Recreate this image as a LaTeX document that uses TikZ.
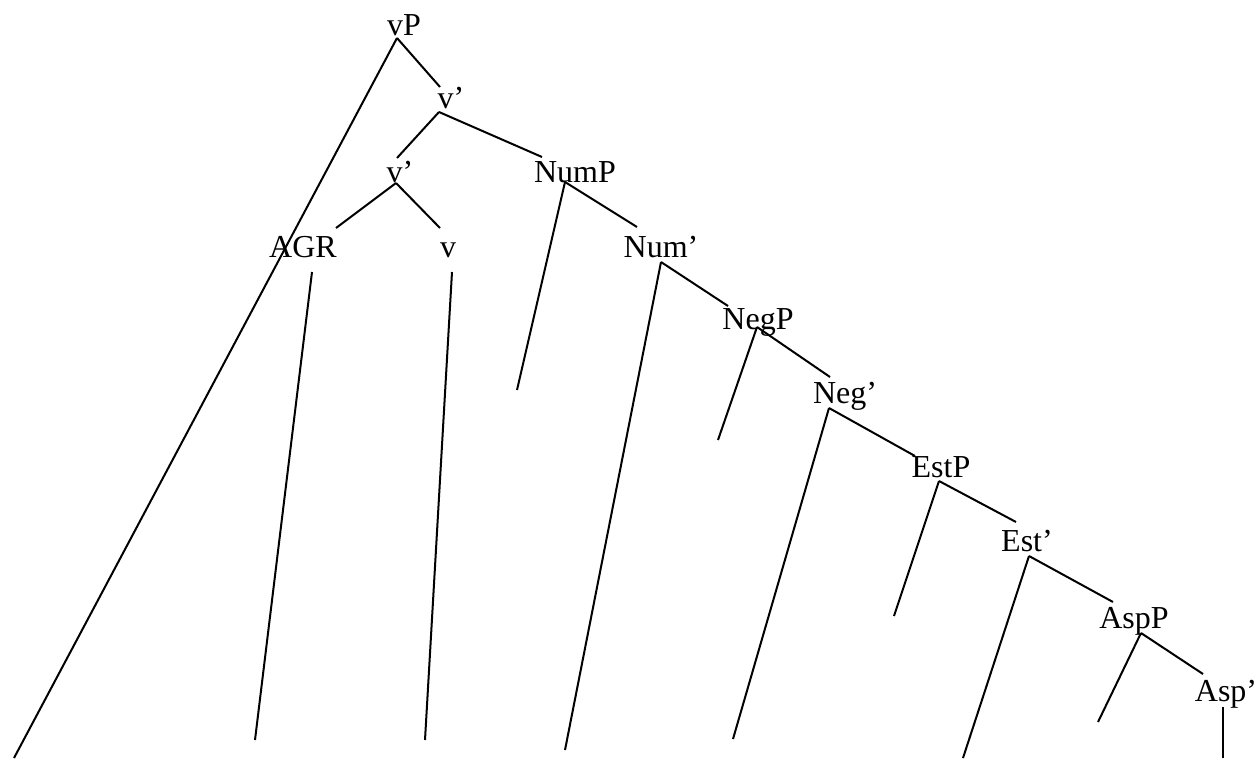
\documentclass[tikz,border=0pt]{standalone}
\usepackage{fontspec}
\setmainfont{Liberation Serif}

\begin{document}
\begin{tikzpicture}[x=1pt,y=-1pt,line width=2pt,every node/.style={font=\fontsize{32}{38}\selectfont},lab/.style={inner sep=0pt,anchor=base}]
\useasboundingbox (0,0) rectangle (1258,758);
\node[lab] (vP) at (404,35) {vP};
\node[lab] (vbar) at (451,108) {v’};
\node[lab] (vbarlow) at (400,182) {v’};
\node[lab] (NumP) at (575,182) {NumP};
\node[lab] (AGR) at (303,257) {AGR};
\node[lab] (v) at (448,257) {v};
\node[lab] (Numbar) at (661,257) {Num’};
\node[lab] (NegP) at (758,329) {NegP};
\node[lab] (Negbar) at (845,403) {Neg’};
\node[lab] (EstP) at (941,477) {EstP};
\node[lab] (Estbar) at (1027,551) {Est’};
\node[lab] (AspP) at (1134,628) {AspP};
\node[lab] (Aspbar) at (1226,701) {Asp’};
\coordinate (vP-b) at (397,38);    \coordinate (vP-l) at (14,758);
\coordinate (vbar-t) at (440,87);  \coordinate (vbar-b) at (439,112);
\coordinate (vbarlow-t) at (397,158); \coordinate (vbarlow-b) at (396,183);
\coordinate (NumP-t) at (542,157); \coordinate (NumP-b) at (565,182); \coordinate (NumP-l) at (517,390);
\coordinate (AGR-t) at (336,228);  \coordinate (AGR-b) at (312,272); \coordinate (AGR-l) at (255,740);
\coordinate (v-t) at (440,228);    \coordinate (v-b) at (452,272);   \coordinate (v-l) at (425,740);
\coordinate (Numbar-t) at (637,227); \coordinate (Numbar-b) at (661,262); \coordinate (Numbar-l) at (565,750);
\coordinate (NegP-t) at (728,306); \coordinate (NegP-b) at (757,327); \coordinate (NegP-l) at (718,440);
\coordinate (Negbar-t) at (830,377); \coordinate (Negbar-b) at (829,408); \coordinate (Negbar-l) at (733,739);
\coordinate (EstP-t) at (915,456); \coordinate (EstP-b) at (939,481); \coordinate (EstP-l) at (894,616);
\coordinate (Estbar-t) at (1016,522); \coordinate (Estbar-b) at (1029,556); \coordinate (Estbar-l) at (963,758);
\coordinate (AspP-t) at (1113,602); \coordinate (AspP-b) at (1141,633); \coordinate (AspP-l) at (1098,722);
\coordinate (Aspbar-t) at (1203,674); \coordinate (Aspbar-b) at (1223,707); \coordinate (Aspbar-l) at (1223,758);
\foreach \a/\b in {vP/vbar,vbar/vbarlow,vbar/NumP,vbarlow/AGR,vbarlow/v,NumP/Numbar,Numbar/NegP,NegP/Negbar,Negbar/EstP,EstP/Estbar,Estbar/AspP,AspP/Aspbar}{\draw (\a-b) -- (\b-t);}
\draw (vP-b) -- (vP-l);
\foreach \g in {AGR,v,NumP,Numbar,NegP,Negbar,EstP,Estbar,AspP,Aspbar}{\draw (\g-b) -- (\g-l);}
\end{tikzpicture}
\end{document}
